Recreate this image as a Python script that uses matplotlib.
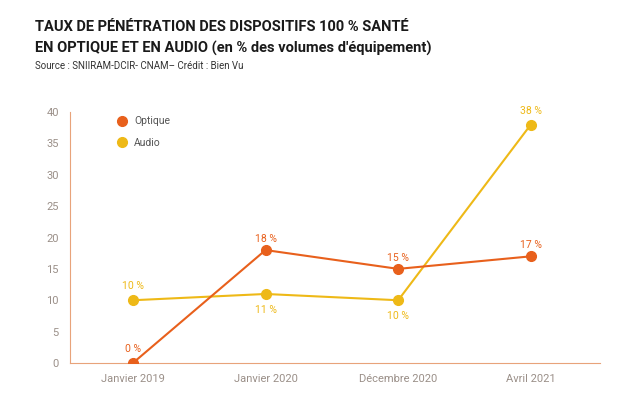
import matplotlib
matplotlib.use('Agg')
import matplotlib.pyplot as plt

plt.rcParams['font.family'] = ['Roboto', 'DejaVu Sans']

dates = ['Janvier 2019', 'Janvier 2020', 'Décembre 2020', 'Avril 2021']
optique = [0, 18, 15, 17]
audio = [10, 11, 10, 38]

c_opt = '#E8601C'
c_aud = '#EEB917'
c_axis = '#E8A37A'
c_tick = '#9A8F88'

fig = plt.figure(figsize=(6.36, 4.12), dpi=100)
ax = fig.add_axes([0.11, 0.119, 0.833, 0.609])
x = list(range(len(dates)))

ax.plot(x, audio, color=c_aud, lw=1.5, marker='o', ms=7, label='Audio', zorder=3)
ax.plot(x, optique, color=c_opt, lw=1.5, marker='o', ms=7, label='Optique', zorder=4)

# value labels
for i, v in enumerate(optique):
    dy = 1.8 if i != 0 else 2.2
    ax.text(i, v + dy, f'{v} %', color=c_opt, fontsize=7.5, ha='center', va='center')
for i, v in enumerate(audio):
    dy = 2.2 if i in (0, 3) else -2.5
    ax.text(i, v + dy, f'{v} %', color=c_aud, fontsize=7.5, ha='center', va='center')

ax.set_xlim(-0.475, 3.52)
ax.set_ylim(0, 40)
ax.set_yticks(range(0, 41, 5))
ax.set_xticks(x)
ax.set_xticklabels(dates)
ax.tick_params(colors=c_tick, labelsize=8, length=0, pad=8)
for s in ['top', 'right']:
    ax.spines[s].set_visible(False)
for s in ['left', 'bottom']:
    ax.spines[s].set_color(c_axis)
    ax.spines[s].set_linewidth(0.8)

h, l = ax.get_legend_handles_labels()
leg = ax.legend(h[::-1], l[::-1], loc='upper left', bbox_to_anchor=(0.08, 1.02),
                frameon=False, fontsize=7.5, handlelength=0, handletextpad=1.2,
                labelspacing=1.1, markerscale=1)
for t in leg.get_texts():
    t.set_color('#555555')

fig.text(0.055, 0.925, 'TAUX DE PÉNÉTRATION DES DISPOSITIFS 100 % SANTÉ',
         fontsize=10.5, fontweight='bold', color='#1a1a1a')
fig.text(0.055, 0.872, "EN OPTIQUE ET EN AUDIO (en % des volumes d'équipement)",
         fontsize=10.5, fontweight='bold', color='#1a1a1a')
fig.text(0.055, 0.832, 'Source : SNIIRAM-DCIR- CNAM– Crédit : Bien Vu',
         fontsize=7, color='#333333')

fig.savefig('out.png', dpi=100)
